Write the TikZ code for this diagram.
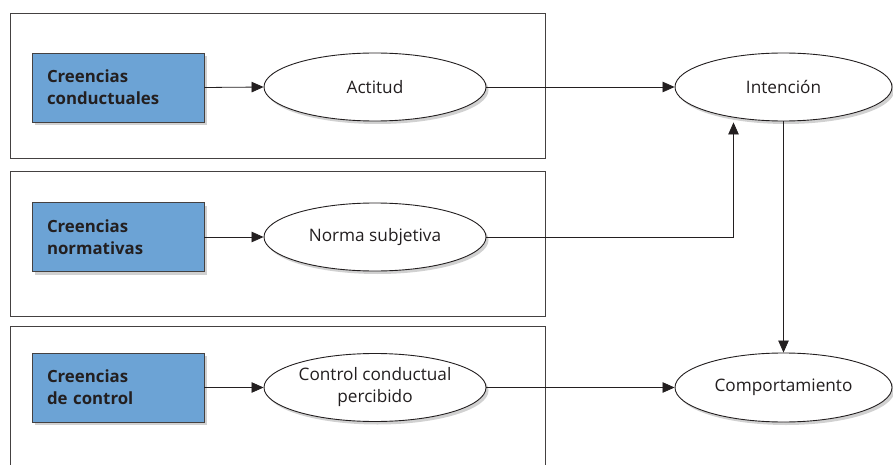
\documentclass[tikz,border=0pt]{standalone}
\usepackage{fontspec}
\setmainfont{Open Sans}[Ligatures=NoCommon]
\usetikzlibrary{shapes.geometric,shadows,arrows.meta}
\definecolor{bluebox}{HTML}{6CA3D5}
\definecolor{ink}{HTML}{231F20}
\begin{document}
\begin{tikzpicture}[x=1pt,y=-1pt,
  frame/.style={draw=ink!85, line width=0.8pt},
  softshadow/.style={drop shadow={shadow xshift=2.5pt, shadow yshift=-3pt, opacity=0.3, fill=black!60}},
  belief/.style={rectangle, draw=ink!85, fill=bluebox, line width=0.9pt,
    minimum width=172pt, minimum height=69pt, inner sep=0pt,
    text width=142pt, align=left, text=ink,
    font=\bfseries\fontsize{16.8}{22}\selectfont, softshadow},
  ell/.style={ellipse, draw=ink, fill=white, line width=0.9pt,
    minimum width=222pt, minimum height=68pt, inner sep=0pt,
    align=center, text=ink, font=\fontsize{17.2}{22}\selectfont, softshadow},
  arr/.style={-{Triangle[length=12pt,width=10.5pt]}, line width=0.8pt, draw=ink}]
\useasboundingbox (0,0) rectangle (893,465);
% frames
\draw[frame] (10,13) rectangle (545,158);
\draw[frame] (10,171) rectangle (545,316);
\draw[frame] (10,465) -- (10,326) -- (545,326) -- (545,465);
% belief boxes
\node[belief] (b1) at (118,87.5) {Creencias\\conductuales};
\node[belief] (b2) at (118,237) {Creencias\\normativas};
\node[belief] (b3) at (118,387.5) {Creencias\\de control};
% ellipses
\node[ell] (e1) at (375,87) {Actitud};
\node[ell] (e2) at (375,237) {Norma subjetiva};
\node[ell] (e3) at (375,387.5) {Control conductual\\percibido};
\node[ell, minimum width=217pt] (int) at (783.5,87) {Intención};
\node[ell, minimum width=217pt, minimum height=69pt] (comp) at (783.5,387.5) {Comportamiento};
% connectors
\draw[arr] (b1.east) -- (e1.west);
\draw[arr] (b2.east) -- (e2.west);
\draw[arr] (b3.east) -- (e3.west);
\draw[arr] (e1.east) -- (int.west);
\draw[arr] (e2.east) -| ([xshift=-50pt,yshift=-1pt]int.south);
\draw[arr] (int.south) -- (comp.north);
\draw[arr] (e3.east) -- (comp.west);
\end{tikzpicture}
\end{document}
